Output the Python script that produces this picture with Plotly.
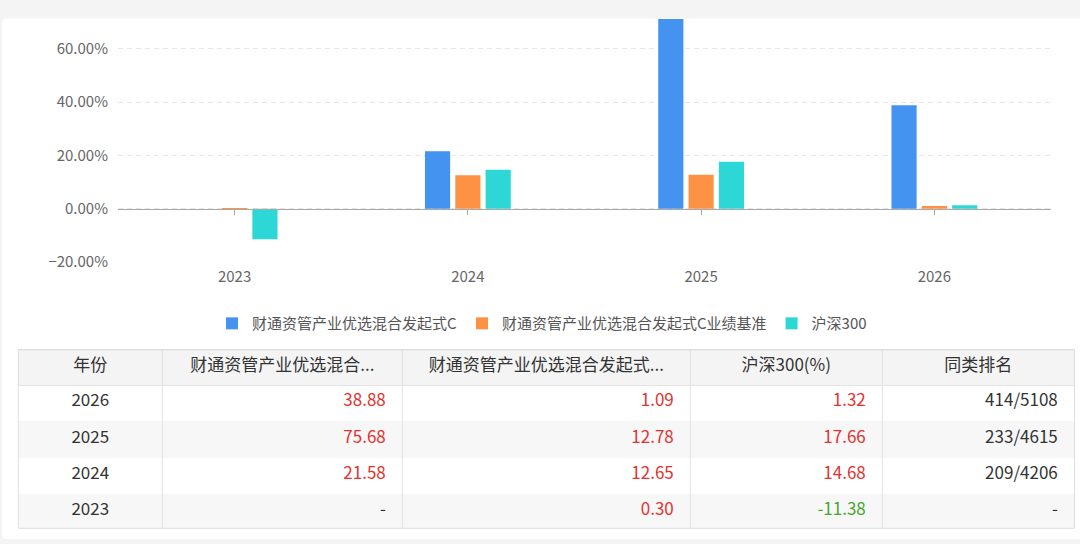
import plotly.graph_objects as go

years = [2023, 2024, 2025, 2026]
fund_c = [None, 21.58, 75.68, 38.88]
benchmark = [0.30, 12.65, 12.78, 1.09]
hs300 = [-11.38, 14.68, 17.66, 1.32]
rank = ['-', '209/4206', '233/4615', '414/5108']

names = ['财通资管产业优选混合发起式C', '财通资管产业优选混合发起式C业绩基准', '沪深300']
colors = ['#4593f0', '#fe9244', '#2cd7d6']
headers = ['年份', '财通资管产业优选混合...', '财通资管产业优选混合发起式...', '沪深300(%)', '同类排名']
col_widths = [144, 240, 288, 192, 192]

W, H = 1080, 544        # reference picture size
HF = 554                # figure height (the capture squeezes it back to 544)
S = HF / H
font = 'Noto Sans CJK SC, Microsoft YaHei, sans-serif'


def fy(py):
    # reference pixel row -> paper fraction
    return 1 - py / H


y_range = [-20, 71.2]
y_dom = [fy(261.7), fy(19)]
x_dom = [118 / W, 1051 / W]
tbl_x = [18.3 / W, 1074.5 / W]
tbl_y = [fy(527.3), fy(349.3)]

fig = go.Figure()
for name, vals, c in zip(names, [fund_c, benchmark, hs300], colors):
    fig.add_trace(go.Bar(x=years, y=vals, name=name, marker_color=c,
                         marker_line_width=0, hoverinfo='skip'))

# invisible trace so the zero-line axis (ticks) gets drawn
fig.add_trace(go.Scatter(x=years, y=[0] * len(years), xaxis='x2', mode='markers',
                         marker=dict(opacity=0), hoverinfo='skip', showlegend=False))

# table (newest year first)
order = list(range(len(years)))[::-1]


def fmt(v):
    return '-' if v is None else f'{v:.2f}'


def tone(v):
    if v is None:
        return '#333333'
    return '#e4322f' if v > 0 else '#46a52c'


pad = '\u2002'
cols = [[str(years[i]) for i in order],
        [fmt(fund_c[i]) + pad for i in order],
        [fmt(benchmark[i]) + pad for i in order],
        [fmt(hs300[i]) + pad for i in order],
        [rank[i] + pad for i in order]]
font_cols = [['#333333'] * len(order),
             [tone(fund_c[i]) for i in order],
             [tone(benchmark[i]) for i in order],
             [tone(hs300[i]) for i in order],
             ['#333333'] * len(order)]
row_fill = ['#ffffff' if k % 2 == 0 else '#f7f7f7' for k in range(len(order))]
fill_cols = [row_fill] * len(cols)

fig.add_trace(go.Table(
    domain=dict(x=tbl_x, y=tbl_y),
    columnwidth=col_widths,
    header=dict(values=headers, fill_color='#f4f4f4', line_color='#e3e3e3',
                align='center', height=35 * S, font=dict(size=17, color='#333333', family=font)),
    cells=dict(values=cols, fill_color=fill_cols, line_color=fill_cols,
               align=['center', 'right', 'right', 'right', 'right'], height=35.6 * S,
               font=dict(size=17, color=font_cols, family=font)),
))

# card background with rounded left corners
rx, ry = 5 / W, 5 / H
cx0, cx1, cy0, cy1 = 2 / W, 1.02, fy(538), fy(18.5)
card = (f'M {cx0 + rx},{cy1} L {cx1},{cy1} L {cx1},{cy0} L {cx0 + rx},{cy0} '
        f'Q {cx0},{cy0} {cx0},{cy0 + ry} L {cx0},{cy1 - ry} Q {cx0},{cy1} {cx0 + rx},{cy1} Z')
shapes = [dict(type='path', path=card, xref='paper', yref='paper', layer='below',
               fillcolor='#ffffff', line=dict(width=0))]

# table column separators and outline
total = sum(col_widths)
acc = 0
for w in col_widths[:-1]:
    acc += w
    xs = tbl_x[0] + (tbl_x[1] - tbl_x[0]) * acc / total
    shapes.append(dict(type='line', xref='paper', yref='paper', x0=xs, x1=xs,
                       y0=tbl_y[0], y1=tbl_y[1], line=dict(color='#e3e3e3', width=1)))
shapes.append(dict(type='rect', xref='paper', yref='paper', x0=tbl_x[0], x1=tbl_x[1],
                   y0=tbl_y[0], y1=tbl_y[1], line=dict(color='#dedede', width=1)))

zero_pos = y_dom[0] + (0 - y_range[0]) / (y_range[1] - y_range[0]) * (y_dom[1] - y_dom[0])

fig.update_layout(
    width=W, height=HF,
    margin=dict(l=0, r=0, t=0, b=0),
    paper_bgcolor='#f4f4f5',
    plot_bgcolor='rgba(0,0,0,0)',
    font=dict(family=font, color='#666666'),
    barmode='group', bargap=0.61, bargroupgap=0.17,
    showlegend=True,
    legend=dict(orientation='h', x=542 / W, xanchor='center', y=fy(323), yanchor='middle',
                font=dict(size=15, color='#555555'), bgcolor='rgba(0,0,0,0)'),
    xaxis=dict(domain=x_dom, range=[2022.5, 2026.5], tickvals=years, showgrid=False,
               zeroline=False, showline=False, ticks='', tickfont=dict(size=15, color='#666666'),
               ticklabelstandoff=4, fixedrange=True),
    xaxis2=dict(matches='x', overlaying='x', anchor='free', position=zero_pos,
                tickvals=years, showticklabels=False, showgrid=False, zeroline=False,
                showline=True, linecolor='#a8a8a8', ticks='outside', ticklen=5,
                tickcolor='#a8a8a8'),
    yaxis=dict(domain=y_dom, range=y_range, tick0=0, dtick=20, tickformat='.2f',
               ticksuffix='%', gridcolor='#e6e6e6', griddash='5px,4px', zeroline=False,
               showline=False, tickfont=dict(size=15, color='#666666'),
               ticklabelstandoff=9, fixedrange=True),
    shapes=shapes,
    hovermode=False,
)

page_fix = ("var s=document.documentElement.style;s.margin='0';s.padding='0';s.overflow='hidden';"
            "var b=document.body.style;b.margin='0';b.padding='0';b.overflow='hidden';")
fig.write_html('out.html', config={'displayModeBar': False}, post_script=page_fix)
